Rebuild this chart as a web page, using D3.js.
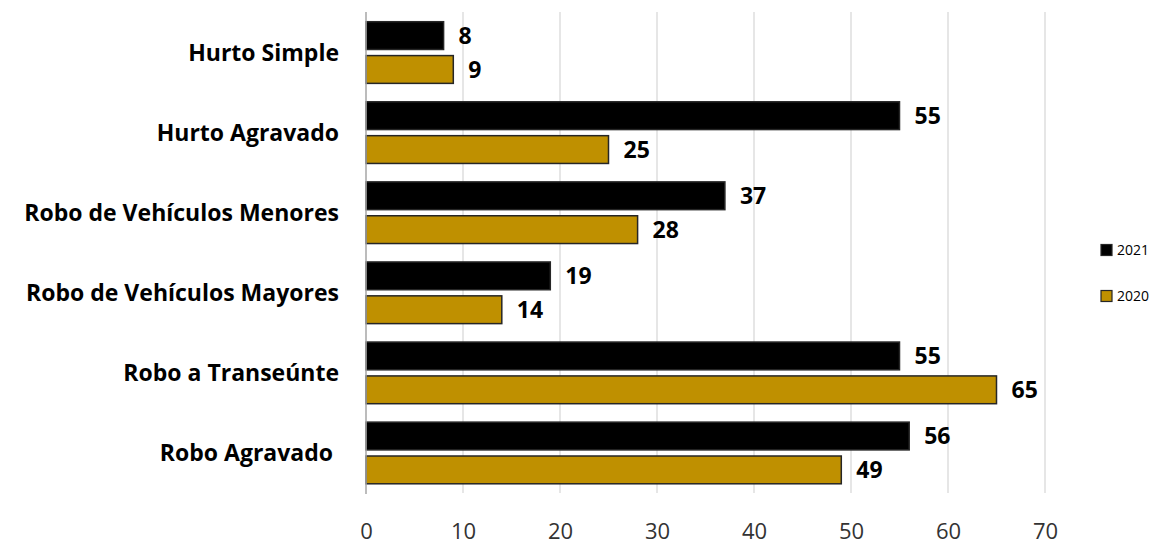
<!DOCTYPE html>
<html><head><meta charset="utf-8">
<script src="https://cdn.jsdelivr.net/npm/d3@7"></script>
<style>body{margin:0;background:#fff}svg{display:block}</style>
</head><body>
<svg id="c" width="1160" height="544"></svg>
<script>
const categories = ["Hurto Simple","Hurto Agravado","Robo de Vehículos Menores","Robo de Vehículos Mayores","Robo a Transeúnte","Robo Agravado "];
const series2021 = [8,55,37,19,55,56];
const series2020 = [9,25,28,14,65,49];
const seriesNames = ["2021","2020"];
const xTicks = [0,10,20,30,40,50,60,70];

const colors = {"2021":"#000000","2020":"#bf9000"};
const svg = d3.select("#c");
const font = "'Open Sans', Lato, sans-serif";
const x = d3.scaleLinear().domain([0,70]).range([366,1045]);
const y = d3.scaleBand().domain(categories).range([12.5,493]).paddingInner(0.23).paddingOuter(0.115);
const y1 = d3.scaleBand().domain(seriesNames).range([0,y.bandwidth()]).paddingInner(0.18);

// gridlines
svg.append("g").selectAll("line").data(xTicks.slice(1)).join("line")
  .attr("x1",d=>x(d)).attr("x2",d=>x(d)).attr("y1",12).attr("y2",493)
  .attr("stroke","#d9d9d9").attr("stroke-width",1.3);

// bottom axis labels
const ax = svg.append("g").attr("transform","translate(0,493)")
  .call(d3.axisBottom(x).tickValues(xTicks).tickSize(0).tickPadding(0));
ax.select(".domain").remove();
ax.selectAll("text").attr("y",38).attr("dy","0.36em")
  .attr("font-family",font).attr("font-size",22).attr("fill","#333");

const rows = categories.map((c,i)=>({c, vals:[{k:"2021",v:series2021[i]},{k:"2020",v:series2020[i]}]}));
const g = svg.append("g").selectAll("g").data(rows).join("g")
  .attr("transform",d=>`translate(0,${y(d.c)})`);
g.selectAll("rect").data(d=>d.vals).join("rect")
  .attr("x",x(0)).attr("y",d=>y1(d.k)).attr("width",d=>x(d.v)-x(0)).attr("height",y1.bandwidth())
  .attr("fill",d=>colors[d.k]).attr("stroke","#262626").attr("stroke-width",1.5);
g.selectAll("text.v").data(d=>d.vals).join("text").attr("class","v")
  .attr("x",d=>x(d.v)+15).attr("y",d=>y1(d.k)+y1.bandwidth()/2).attr("dy","0.36em")
  .attr("font-family",font).attr("font-weight","bold").attr("font-size",23).attr("fill","#000")
  .text(d=>d.v);

// category labels
svg.append("g").selectAll("text").data(categories).join("text")
  .attr("x",339).attr("y",d=>y(d)+y.bandwidth()/2).attr("dy","0.36em")
  .attr("text-anchor","end").attr("font-family",font).attr("font-weight","bold").attr("font-size",23)
  .style("white-space","pre").attr("fill","#000").text(d=>d);

// zero axis line
svg.append("line").attr("x1",x(0)).attr("x2",x(0)).attr("y1",12).attr("y2",494)
  .attr("stroke","#a6a6a6").attr("stroke-width",1.5);

// legend
const lg = svg.append("g").selectAll("g").data(seriesNames).join("g")
  .attr("transform",(d,i)=>`translate(1101,${250+i*46})`);
lg.append("rect").attr("x",0).attr("y",-5.5).attr("width",11).attr("height",11)
  .attr("fill",d=>colors[d]).attr("stroke","#262626").attr("stroke-width",1.2);
lg.append("text").attr("x",16).attr("y",0).attr("dy","0.36em").attr("font-family",font)
  .attr("font-size",14).attr("fill","#000").text(d=>d);
</script>
</body></html>
